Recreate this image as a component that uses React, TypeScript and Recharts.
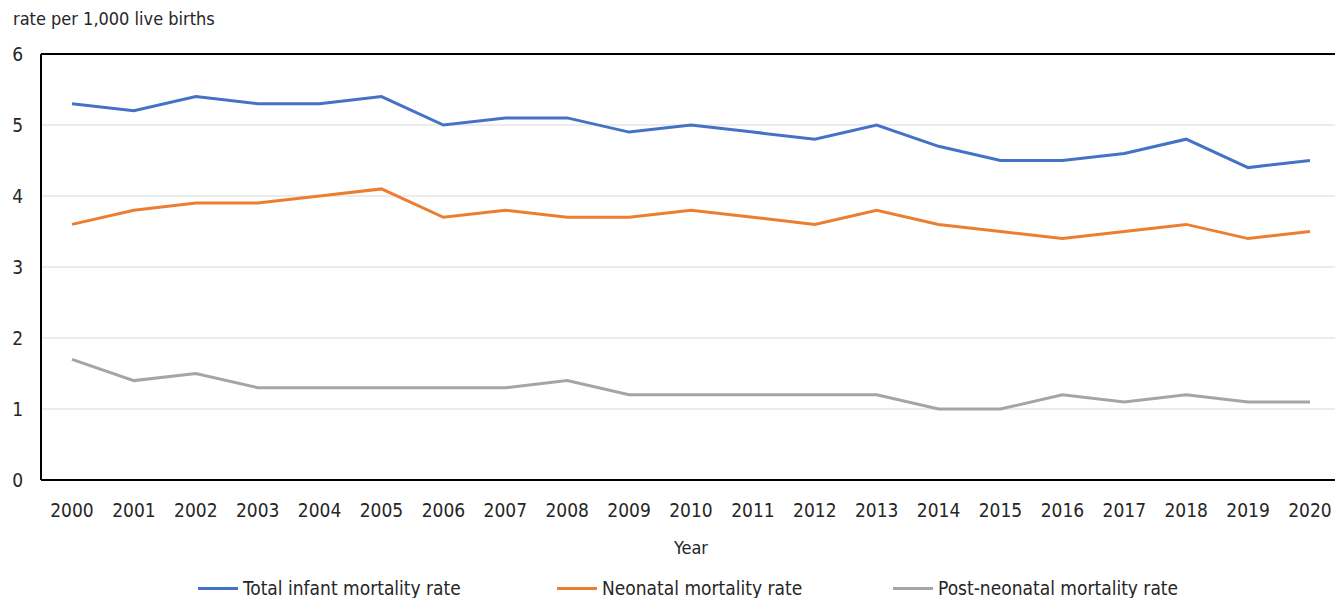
import { LineChart, Line, XAxis, YAxis, CartesianGrid, Legend, ReferenceLine } from "recharts"

const years = ["2000", "2001", "2002", "2003", "2004", "2005", "2006", "2007", "2008", "2009", "2010", "2011", "2012", "2013", "2014", "2015", "2016", "2017", "2018", "2019", "2020"]
const totalRate = [5.3, 5.2, 5.4, 5.3, 5.3, 5.4, 5.0, 5.1, 5.1, 4.9, 5.0, 4.9, 4.8, 5.0, 4.7, 4.5, 4.5, 4.6, 4.8, 4.4, 4.5]
const neonatalRate = [3.6, 3.8, 3.9, 3.9, 4.0, 4.1, 3.7, 3.8, 3.7, 3.7, 3.8, 3.7, 3.6, 3.8, 3.6, 3.5, 3.4, 3.5, 3.6, 3.4, 3.5]
const postNeonatalRate = [1.7, 1.4, 1.5, 1.3, 1.3, 1.3, 1.3, 1.3, 1.4, 1.2, 1.2, 1.2, 1.2, 1.2, 1.0, 1.0, 1.2, 1.1, 1.2, 1.1, 1.1]
const yTicks = [0, 1, 2, 3, 4, 5, 6]

const seriesNames = ["Total infant mortality rate", "Neonatal mortality rate", "Post-neonatal mortality rate"]
const colors = ["#4472C4", "#ED7D31", "#A5A5A5"]
const legendLeft = [198, 557, 893]

const font = "'Liberation Sans Narrow', 'DejaVu Sans Condensed', sans-serif"

const data = years.map((year, i) => ({
  year,
  total: totalRate[i],
  neonatal: neonatalRate[i],
  post: postNeonatalRate[i],
}))

function LegendBox() {
  return (
    <div style={{ position: "relative", height: 30, width: 1335 }}>
      {seriesNames.map((name, i) => (
        <div key={name} style={{ position: "absolute", left: legendLeft[i], top: 0, display: "flex", alignItems: "center", whiteSpace: "nowrap" }}>
          <span style={{ display: "inline-block", width: 40, height: 3, background: colors[i], marginRight: 5 }} />
          <span style={{ fontFamily: font, fontSize: 19, color: "#262626" }}>{name}</span>
        </div>
      ))}
    </div>
  )
}

export default function App() {
  return (
    <div style={{ position: "absolute", left: 0, top: 0, width: 1335, height: 598, overflow: "hidden", background: "#fff" }}>
      <div style={{ position: "absolute", left: 13, top: 8, fontFamily: font, fontSize: 18, color: "#262626" }}>rate per 1,000 live births</div>
      <LineChart width={1341} height={598} data={data} margin={{ top: 54, right: 0, left: 0, bottom: 0 }}>
        <CartesianGrid vertical={false} stroke="#d9d9d9" strokeWidth={1} />
        <XAxis
          dataKey="year"
          padding={{ left: 31, right: 31 }}
          tickLine={false}
          tickSize={0}
          tickMargin={24}
          stroke="#000"
          strokeWidth={2}
          height={88}
          tick={{ fill: "#262626", fontSize: 19, fontFamily: font }}
          label={{ value: "Year", position: "insideBottom", offset: 14, fill: "#262626", fontSize: 18, fontFamily: font }}
        />
        <YAxis
          domain={[0, 6]}
          ticks={yTicks}
          width={41}
          tickLine={false}
          tickSize={0}
          tickMargin={18}
          stroke="#000"
          strokeWidth={2}
          tick={{ fill: "#262626", fontSize: 19, fontFamily: font }}
        />
        <ReferenceLine y={6} stroke="#000" strokeWidth={2} />
        <Legend verticalAlign="bottom" wrapperStyle={{ left: 0, top: 577, width: 1335 }} content={() => <LegendBox />} />
        <Line type="linear" dataKey="total" name={seriesNames[0]} stroke={colors[0]} strokeWidth={3} dot={false} isAnimationActive={false} />
        <Line type="linear" dataKey="neonatal" name={seriesNames[1]} stroke={colors[1]} strokeWidth={3} dot={false} isAnimationActive={false} />
        <Line type="linear" dataKey="post" name={seriesNames[2]} stroke={colors[2]} strokeWidth={3} dot={false} isAnimationActive={false} />
      </LineChart>
    </div>
  )
}
